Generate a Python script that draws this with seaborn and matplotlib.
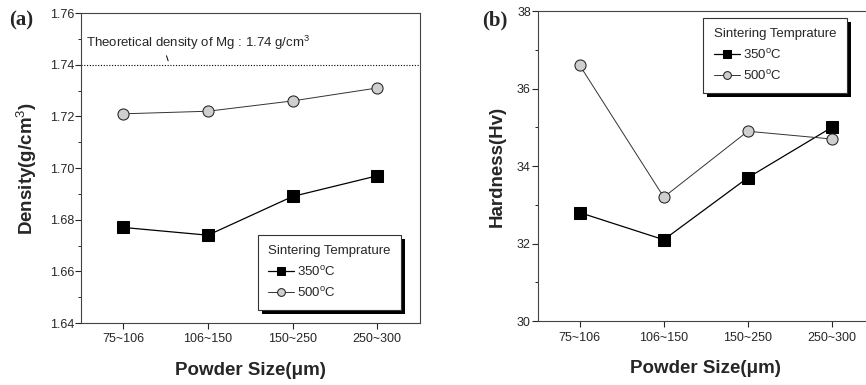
import numpy as np
import pandas as pd
import matplotlib
matplotlib.use('Agg')
import matplotlib.pyplot as plt
import seaborn as sns
from matplotlib.patches import Rectangle

# data
sizes = ['75~106', '106~150', '150~250', '250~300']
density_350 = [1.677, 1.674, 1.689, 1.697]
density_500 = [1.721, 1.722, 1.726, 1.731]
hardness_350 = [32.8, 32.1, 33.7, 35.0]
hardness_500 = [36.6, 33.2, 34.9, 34.7]
theo_density = 1.74

sns.set_style('ticks')
plt.rcParams['font.family'] = ['Liberation Sans', 'DejaVu Sans']
plt.rcParams['mathtext.fontset'] = 'custom'
plt.rcParams['mathtext.rm'] = 'Liberation Sans'

fig = plt.figure(figsize=(8.66, 3.85), dpi=100)
ax1 = fig.add_axes([0.0935, 0.161, 0.391, 0.805])
ax2 = fig.add_axes([0.621, 0.166, 0.388, 0.805])


def draw(ax, v350, v500):
    sns.lineplot(x=sizes, y=v350, ax=ax, color='black', lw=0.9, marker='s',
                 markersize=8, markerfacecolor='black', markeredgecolor='black',
                 sort=False, label='350$^{\\mathrm{o}}$C')
    sns.lineplot(x=sizes, y=v500, ax=ax, color='#333333', lw=0.7, marker='o',
                 markersize=8, markerfacecolor='#cfcfcf', markeredgecolor='#222222',
                 sort=False, label='500$^{\\mathrm{o}}$C')
    ax.set_xlim(-0.5, 3.5)
    for s in ax.spines.values():
        s.set_linewidth(0.8)
        s.set_color('#444444')
        s.set_visible(True)
    ax.tick_params(axis='both', direction='out', length=4, width=0.8, labelsize=9)
    ax.tick_params(axis='y', which='minor', length=2.5, width=0.7)
    ax.tick_params(axis='y', pad=1)
    ax.set_xlabel('Powder Size(μm)', fontsize=13.5, fontweight='bold', labelpad=12)


def legend(ax, loc, anchor):
    leg = ax.legend(title='Sintering Temprature', loc=loc, bbox_to_anchor=anchor,
                    frameon=True, fancybox=False, fontsize=9.5, title_fontsize=9.5,
                    handlelength=2.0, handletextpad=0.2, borderpad=0.8,
                    labelspacing=0.55, borderaxespad=0.5, markerscale=0.7)
    leg.get_frame().set_edgecolor('#333333')
    leg.get_frame().set_linewidth(0.8)
    leg.get_frame().set_alpha(1)
    leg._legend_box.align = 'left'
    return leg


# (a) density
draw(ax1, density_350, density_500)
ax1.axhline(theo_density, color='black', lw=0.8, ls=(0, (1, 1.5)))
ax1.set_ylim(1.64, 1.76)
ax1.set_yticks(np.arange(1.64, 1.761, 0.02))
ax1.set_yticks(np.arange(1.65, 1.76, 0.02), minor=True)
ax1.yaxis.set_major_formatter(matplotlib.ticker.FormatStrFormatter('%.2f'))
ax1.set_ylabel('Density(g/cm$^3$)', fontsize=13.5, fontweight='bold', labelpad=8)
ax1.text(0.015, 0.905, 'Theoretical density of Mg : 1.74 g/cm$^3$', transform=ax1.transAxes,
         fontsize=9.5, ha='left', va='center')
ax1.annotate('', xy=(0.54, 1.7405), xytext=(0.5, 1.7445),
             arrowprops=dict(arrowstyle='-', color='black', lw=0.7))
leg1 = legend(ax1, 'lower right', (0.965, 0.02))
fig.text(0.01, 0.935, '(a)', fontsize=15, fontweight='bold', family='Liberation Serif')

# (b) hardness
draw(ax2, hardness_350, hardness_500)
ax2.set_ylim(30, 38)
ax2.set_yticks(np.arange(30, 38.1, 2))
ax2.set_yticks(np.arange(31, 38, 2), minor=True)
ax2.set_ylabel('Hardness(Hv)', fontsize=13.5, fontweight='bold', labelpad=8)
leg2 = legend(ax2, 'upper right', (0.94, 1.0))
fig.text(0.557, 0.935, '(b)', fontsize=15, fontweight='bold', family='Liberation Serif')

# solid drop shadow behind each legend box
fig.canvas.draw()
for ax, leg in ((ax1, leg1), (ax2, leg2)):
    bb = leg.get_window_extent().transformed(fig.transFigure.inverted())
    dx, dy = 4 / 866, -4 / 385
    ax.add_artist(Rectangle((bb.x0 + dx, bb.y0 + dy), bb.width, bb.height,
                            transform=fig.transFigure, facecolor='black',
                            edgecolor='none', zorder=4, clip_on=False))
    leg.set_zorder(10)

fig.savefig('out.png', dpi=100)
